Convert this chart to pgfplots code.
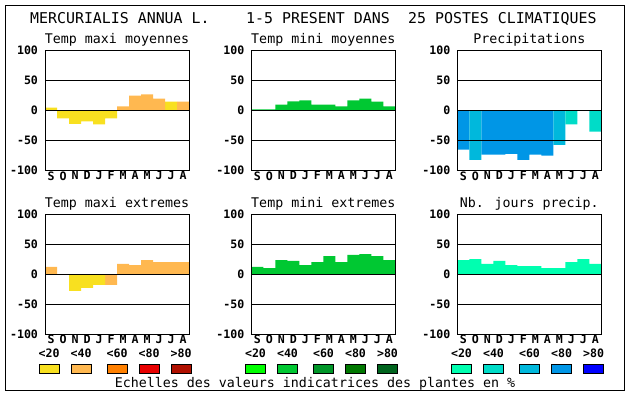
\documentclass[border=0pt]{standalone}
\usepackage{pgfplots}
\pgfplotsset{compat=1.18}
\usepackage{fontspec}
\setmainfont{DejaVu Sans Mono}
\newcommand\ttl{\fontsize{14.9bp}{16bp}\selectfont}
\newcommand\sub{\fontsize{13.3bp}{15bp}\selectfont}
\newcommand\tic{\fontsize{11.6bp}{12bp}\selectfont\bfseries}
\definecolor{c1}{RGB}{248,224,32}
\definecolor{c2}{RGB}{255,184,80}
\definecolor{c3}{RGB}{255,128,0}
\definecolor{c4}{RGB}{232,0,0}
\definecolor{c5}{RGB}{176,16,0}
\definecolor{g1}{RGB}{0,255,0}
\definecolor{g2}{RGB}{0,200,50}
\definecolor{g3}{RGB}{0,150,40}
\definecolor{g4}{RGB}{0,120,0}
\definecolor{g5}{RGB}{0,100,30}
\definecolor{b1}{RGB}{0,255,176}
\definecolor{b2}{RGB}{0,220,200}
\definecolor{b3}{RGB}{0,184,220}
\definecolor{b4}{RGB}{0,150,230}
\definecolor{b5}{RGB}{0,0,255}
\pgfplotsset{panel/.style={scale only axis, width=144bp, height=120bp,
  anchor=south west, xmin=0, xmax=12, ymin=-100, ymax=100, axis on top,
  ytick={-100,-50,0,50,100}, xtick={0.5,1.5,...,11.5},
  xticklabels={S,O,N,D,J,F,M,A,M,J,J,A},
  ymajorgrids, major grid style={black, line width=0.8bp},
  axis line style={line width=0.8bp}, major tick length=0pt,
  tick label style={font=\tic}, /pgf/number format/assume math mode=true,
  yticklabel style={xshift=-3.5bp}, xticklabel style={yshift=1.5bp, inner sep=2pt}},
  bars/.style={ybar, bar width=1, bar shift=0pt, fill=#1, draw=none}}
\begin{document}
\begin{tikzpicture}[x=1bp,y=1bp]
\path (0,0) rectangle (630,394);
\draw[line width=0.8bp] (5,4) rectangle (624,389);
% titles
\node[anchor=base west, inner sep=0, font=\ttl] at (30,370.7) {MERCURIALIS ANNUA L.};
\node[anchor=base west, inner sep=0, font=\ttl] at (246,370.7) {1-5 PRESENT DANS};
\node[anchor=base west, inner sep=0, font=\ttl] at (408,370.7) {25 POSTES CLIMATIQUES};
\node[anchor=base, inner sep=0, font=\sub] at (117,350.7) {Temp maxi moyennes};
\node[anchor=base, inner sep=0, font=\sub] at (323.3,350.7) {Temp mini moyennes};
\node[anchor=base, inner sep=0, font=\sub] at (529.3,350.7) {Precipitations};
\node[anchor=base, inner sep=0, font=\sub] at (117,186.7) {Temp maxi extremes};
\node[anchor=base, inner sep=0, font=\sub] at (323.3,186.7) {Temp mini extremes};
\node[anchor=base, inner sep=0, font=\sub] at (529.3,186.7) {Nb. jours precip.};
\node[anchor=base, inner sep=0, font=\sub] at (315,6.7) {Echelles des valeurs indicatrices des plantes en \%};
% panel 1
\begin{axis}[panel, at={(45bp,223.3bp)}]
\addplot[bars=c1] coordinates {(0.5,5) (1.5,-13) (2.5,-22) (3.5,-18) (4.5,-23) (5.5,-13) (10.5,15)};
\addplot[bars=c2] coordinates {(6.5,7) (7.5,25) (8.5,27) (9.5,20) (11.5,15)};
\end{axis}
% panel 2
\begin{axis}[panel, at={(251.3bp,223.3bp)}]
\addplot[bars=g2] coordinates {(0.5,2) (1.5,2) (2.5,10) (3.5,15.5) (4.5,17) (5.5,10) (6.5,10) (7.5,7) (8.5,17) (9.5,20) (10.5,15) (11.5,7)};
\end{axis}
% panel 3
\begin{axis}[panel, at={(457.3bp,223.3bp)}]
\addplot[bars=b4] coordinates {(0.5,-65) (2.5,-73) (3.5,-73) (4.5,-72) (5.5,-82) (6.5,-73) (7.5,-75)};
\addplot[bars=b3] coordinates {(1.5,-82) (8.5,-57)};
\addplot[bars=b2] coordinates {(9.5,-23) (11.5,-35)};
\end{axis}
% panel 4
\begin{axis}[panel, at={(45bp,60bp)}]
\addplot[bars=c2] coordinates {(0.5,12) (5.5,-18) (6.5,17) (7.5,15) (8.5,23) (9.5,20) (10.5,20) (11.5,20)};
\addplot[bars=c1] coordinates {(2.5,-28) (3.5,-23) (4.5,-18)};
\end{axis}
% panel 5
\begin{axis}[panel, at={(251.3bp,60bp)}]
\addplot[bars=g2] coordinates {(0.5,12) (1.5,10) (2.5,23) (3.5,22) (4.5,15) (5.5,20) (6.5,30) (7.5,20) (8.5,32) (9.5,33) (10.5,30) (11.5,23)};
\end{axis}
% panel 6
\begin{axis}[panel, at={(457.3bp,60bp)}]
\addplot[bars=b1] coordinates {(0.5,23) (1.5,25) (2.5,17) (3.5,22) (4.5,15) (5.5,13) (6.5,13) (7.5,10) (8.5,10) (9.5,20) (10.5,25) (11.5,17)};
\end{axis}
% legends
\foreach \L/\cola/\colb/\colc/\cold/\cole in {45/c1/c2/c3/c4/c5, 251.3/g1/g2/g3/g4/g5, 457.3/b1/b2/b3/b4/b5}{
  \foreach \o/\t/\c in {4.2/{<20}/\cola, 36.2/{<40}/\colb, 72.2/{<60}/\colc, 104.2/{<80}/\cold, 136.2/{>80}/\cole}{
    \node[anchor=base, inner sep=0, font=\tic] at (\L+\o,36.7) {\t};
    \draw[line width=0.8bp, fill=\c] (\L+\o-10.2,20.3) rectangle (\L+\o+10.2,29.7);
  }
}
\end{tikzpicture}
\end{document}
